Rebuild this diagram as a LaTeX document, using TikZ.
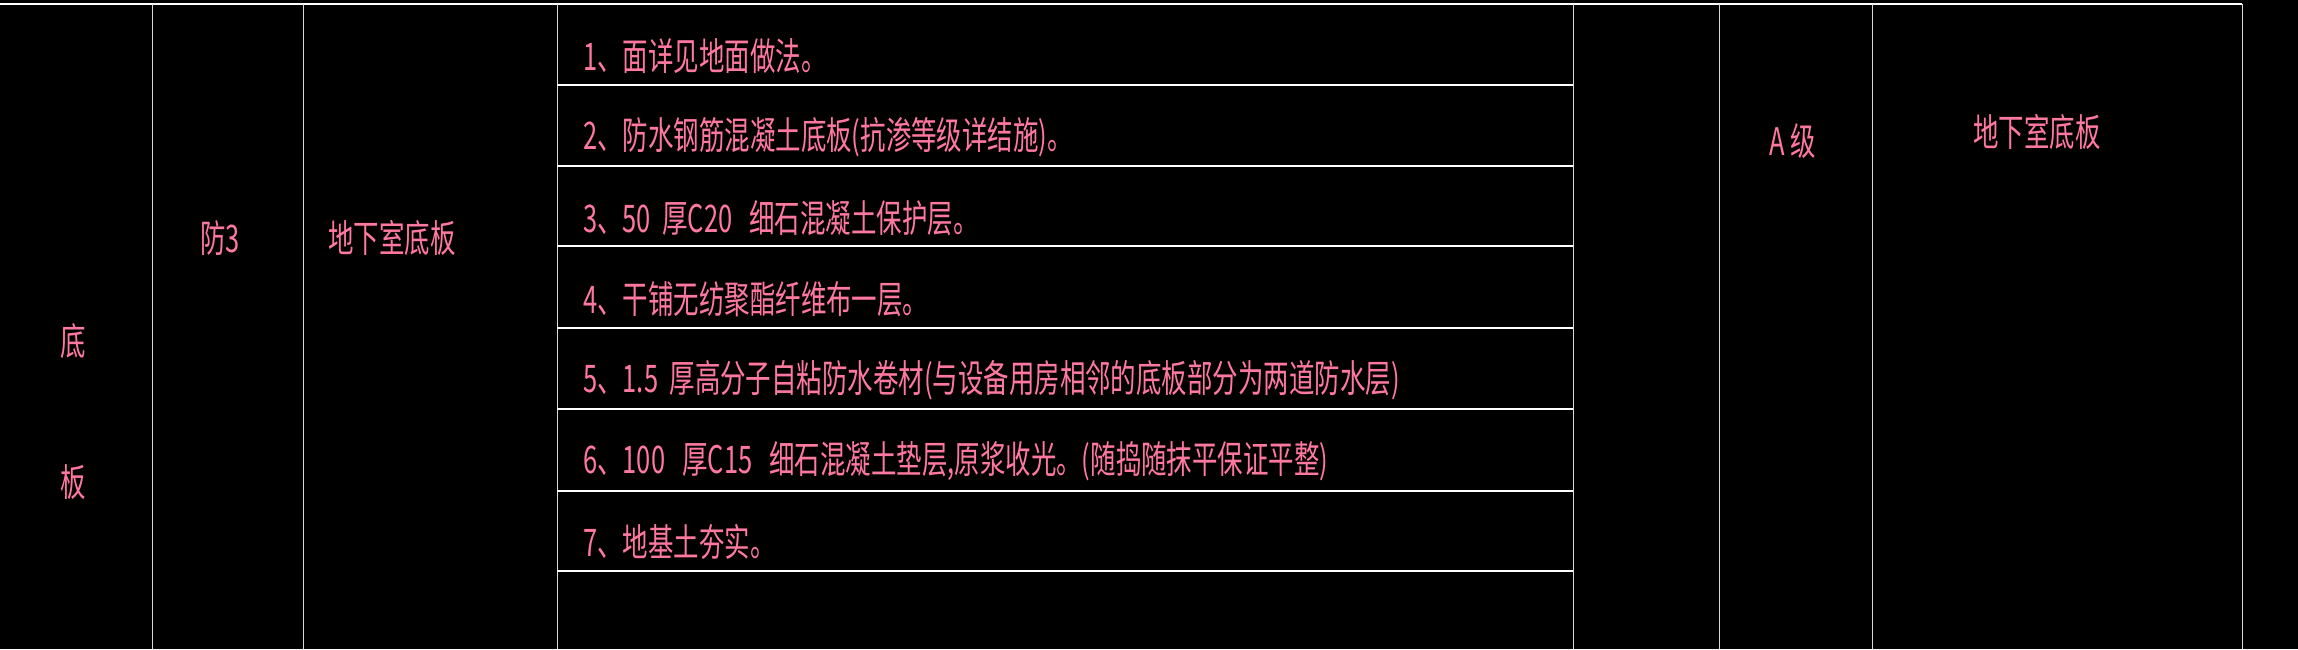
\documentclass[tikz,border=0pt]{standalone}
\usepackage{fontspec}
\newfontfamily\cjk[FakeStretch=0.67]{Noto Sans CJK SC}
\definecolor{ink}{RGB}{255,120,160}
\begin{document}
\begin{tikzpicture}[x=1pt,y=-1pt,
  txt/.style={text=ink,font=\cjk\fontsize{38}{38}\selectfont,inner sep=0pt},
  hl/.style={draw=white,line width=1.6pt},
  vl/.style={draw=white!85!black,line width=1pt}]
\fill[black] (0,0) rectangle (2298,649);
\useasboundingbox (0,0) rectangle (2298,649);
\draw[hl] (0,4) -- (2242,4);
\foreach \x in {152,303,557,1573,1719,1872,2242} \draw[vl] (\x,4) -- (\x,649);
\foreach \y in {85,166,246,328,409,491,571} \draw[hl] (557,\y) -- (1573,\y);
\node[txt] (d1) at (73,341) {底};
\node[txt] (d2) at (73,482) {板};
\node[txt] (f3) at (220,238) {防3};
\node[txt] (dx) at (392,238) {地下室底板};
\node[txt,anchor=west] (r1) at (583,56) {1、面详见地面做法。};
\node[txt,anchor=west] (r2) at (583,137) {2、防水钢筋混凝土底板(抗渗等级详结施)。};
\node[txt,anchor=west] (r3) at (583,218) {3、50\ \ 厚C20\ \ \ 细石混凝土保护层。};
\node[txt,anchor=west] (r4) at (583,299) {4、干铺无纺聚酯纤维布一层。};
\node[txt,anchor=west] (r5) at (583,380) {5、1.5\ \ 厚高分子自粘防水卷材(与设备用房相邻的底板部分为两道防水层)};
\node[txt,anchor=west] (r6) at (583,461) {6、100\ \ \ 厚C15\ \ \ 细石混凝土垫层,原浆收光。(随捣随抹平保证平整)};
\node[txt,anchor=west] (r7) at (583,542) {7、地基土夯实。};
\node[txt] (ag) at (1793,141) {A 级};
\node[txt] (dx2) at (2037,132) {地下室底板};
\end{tikzpicture}
\end{document}
